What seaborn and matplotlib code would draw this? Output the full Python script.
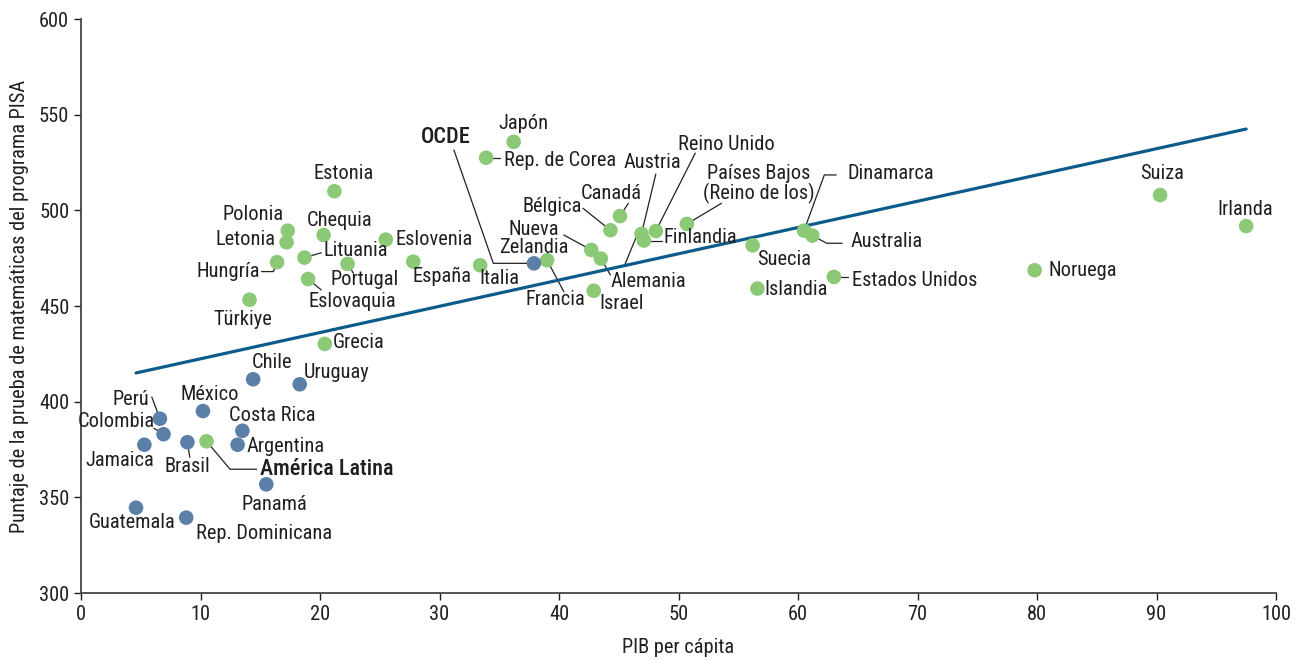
import numpy as np
import pandas as pd
import matplotlib.pyplot as plt
import seaborn as sns
from matplotlib import font_manager

# datos (PIB per cápita en miles, puntaje PISA matemáticas)
paises = [
    "Japón", "Rep. de Corea", "Estonia", "Suiza", "Canadá", "Países Bajos\n(Reino de los)",
    "Irlanda", "Bélgica", "Dinamarca", "Reino Unido", "Polonia", "Austria", "Australia",
    "Chequia", "Eslovenia", "Finlandia", "Letonia", "Suecia", "Nueva\nZelandia", "Lituania",
    "Alemania", "Francia", "España", "Hungría", "Portugal", "Italia", "Noruega",
    "Estados Unidos", "Eslovaquia", "Islandia", "Israel", "Türkiye", "Grecia", "OCDE",
    "Chile", "Uruguay", "México", "Perú", "Costa Rica", "Colombia", "Brasil",
    "América Latina", "Argentina", "Jamaica", "Panamá", "Guatemala", "Rep. Dominicana",
]
pib = [
    36.2, 33.9, 21.2, 90.3, 45.1, 50.7,
    97.5, 44.3, 60.5, 48.1, 17.3, 46.9, 61.2,
    20.3, 25.5, 47.1, 17.2, 56.2, 42.7, 18.7,
    43.5, 39.0, 27.8, 16.4, 22.3, 33.4, 79.8,
    63.0, 19.0, 56.6, 42.9, 14.1, 20.4, 37.9,
    14.4, 18.3, 10.2, 6.6, 13.5, 6.9, 8.9,
    10.5, 13.1, 5.3, 15.5, 4.6, 8.8,
]
pisa = [
    535.8, 527.5, 510.0, 508.0, 497.0, 492.9,
    491.8, 489.6, 489.4, 489.2, 489.4, 487.7, 486.8,
    487.1, 484.7, 484.2, 483.3, 481.7, 479.3, 475.3,
    474.8, 473.9, 473.2, 472.9, 472.0, 471.3, 468.7,
    465.2, 464.1, 459.1, 458.0, 453.3, 430.2, 472.3,
    411.7, 409.1, 395.1, 391.1, 384.8, 383.0, 378.8,
    379.3, 377.5, 377.5, 356.8, 344.6, 339.4,
]
grupo = ["verde"] * 33 + ["azul"] * 8 + ["verde"] + ["azul"] * 5

# recta de tendencia
tendencia_x = [4.6, 97.5]
tendencia_y = [415.0, 542.5]

# posición de etiquetas (x, y, alineación)
etiquetas = {
    "Japón": (37.0, 545.2, "center"), "Rep. de Corea": (35.4, 525.8, "left"),
    "Estonia": (22.0, 519.0, "center"), "Suiza": (90.5, 519.0, "center"),
    "Canadá": (44.4, 508.6, "center"), "Países Bajos\n(Reino de los)": (56.7, 513.8, "center"),
    "Irlanda": (97.4, 500.6, "center"), "Bélgica": (39.45, 502.0, "center"),
    "Dinamarca": (64.15, 519.0, "left"), "Reino Unido": (54.0, 534.2, "center"),
    "Polonia": (14.4, 497.6, "center"), "Austria": (47.8, 525.0, "center"),
    "Australia": (64.4, 483.6, "left"), "Chequia": (21.6, 494.6, "center"),
    "Eslovenia": (26.3, 484.5, "left"), "Finlandia": (48.7, 486.0, "left"),
    "Letonia": (13.8, 484.5, "center"), "Suecia": (58.8, 474.1, "center"),
    "Nueva\nZelandia": (37.85, 485.4, "center"), "Lituania": (20.3, 479.0, "left"),
    "Alemania": (47.5, 462.7, "center"), "Francia": (39.7, 453.2, "center"),
    "España": (30.2, 465.4, "center"), "Hungría": (14.98, 468.0, "right"),
    "Portugal": (23.7, 463.6, "center"), "Italia": (35.0, 464.5, "center"),
    "Noruega": (81.0, 468.5, "left"), "Estados Unidos": (64.5, 463.3, "left"),
    "Eslovaquia": (22.7, 452.3, "center"), "Islandia": (57.15, 458.6, "left"),
    "Israel": (45.25, 451.1, "center"), "Türkiye": (13.5, 442.7, "center"),
    "Grecia": (21.1, 430.8, "left"), "OCDE": (30.5, 538.5, "center"),
    "Chile": (15.96, 420.4, "center"), "Uruguay": (21.4, 415.4, "center"),
    "México": (10.8, 403.5, "center"), "Perú": (4.18, 401.3, "center"),
    "Costa Rica": (16.0, 392.9, "center"), "Colombia": (2.99, 389.5, "center"),
    "Brasil": (8.9, 365.9, "center"), "América Latina": (20.6, 365.0, "center"),
    "Argentina": (17.15, 376.8, "center"), "Jamaica": (3.2, 369.2, "center"),
    "Panamá": (16.2, 346.5, "center"), "Guatemala": (4.24, 336.8, "center"),
    "Rep. Dominicana": (15.3, 331.2, "center"),
}

# líneas guía: puntos después del marcador
guias = {
    "Rep. de Corea": [(35.1, 527.5)], "Canadá": [(45.8, 503.7)],
    "Países Bajos\n(Reino de los)": [(53.6, 503.7)], "Bélgica": [(42.0, 501.1)],
    "Dinamarca": [(62.2, 518.5), (63.2, 518.5)], "Reino Unido": [(51.4, 529.9)],
    "Austria": [(48.1, 519.0)], "Australia": [(62.4, 482.8), (63.7, 482.8)],
    "Finlandia": [(48.6, 484.2)], "Nueva\nZelandia": [(40.4, 487.1)],
    "Lituania": [(20.1, 477.8)], "Alemania": [(44.3, 466.2)],
    "Francia": [(40.4, 457.5)], "Hungría": [(16.1, 468.0), (15.1, 468.0)],
    "Portugal": [(22.8, 467.1)], "Estados Unidos": [(64.2, 465.2)],
    "Eslovaquia": [(20.1, 458.4)], "Israel": [(43.2, 455.0)],
    "OCDE": [(34.5, 472.3), (31.2, 531.6)], "Perú": [(5.92, 402.4)],
    "Colombia": [(6.1, 386.1)], "Brasil": [(9.1, 370.9)],
    "América Latina": [(12.47, 364.7), (14.7, 364.7)],
}
linea_extra = [(45.5, 471.5), (46.5, 486.7)]

df = pd.DataFrame({"pais": paises, "pib": pib, "pisa": pisa, "grupo": grupo})

sns.set_style("ticks")
instaladas = {f.name for f in font_manager.fontManager.ttflist}
candidatas = ["Roboto Condensed", "Barlow Semi Condensed", "Archivo Narrow", "Asap Condensed"]
fuente = next((c for c in candidatas if c in instaladas), "DejaVu Sans")
plt.rcParams["font.family"] = [fuente, "DejaVu Sans"]

TAM = 14.7

fig = plt.figure(figsize=(13.01, 6.6), dpi=100)
ax = fig.add_axes([0.0623, 0.1015, 0.9185, 0.8697])

sns.lineplot(x=tendencia_x, y=tendencia_y, color="#0d5b8a", linewidth=2.3, ax=ax, zorder=2)

for _, fila in df.iterrows():
    if fila["pais"] in guias:
        pts = [(fila["pib"], fila["pisa"])] + guias[fila["pais"]]
        ax.plot([p[0] for p in pts], [p[1] for p in pts], color="#222222", lw=0.9, zorder=1)
ax.plot([p[0] for p in linea_extra], [p[1] for p in linea_extra], color="#222222", lw=0.9, zorder=1)

sns.scatterplot(data=df, x="pib", y="pisa", hue="grupo",
                palette={"verde": "#8cc976", "azul": "#5b7fa6"},
                s=110, linewidth=0, legend=False, ax=ax, zorder=3)

for _, fila in df.iterrows():
    tx, ty, ha = etiquetas[fila["pais"]]
    negrita = fila["pais"] in ("OCDE", "América Latina")
    ax.text(tx, ty, fila["pais"], ha=ha, va="center", ma="center",
            fontsize=16 if negrita else TAM, color="#1f1f1f",
            fontweight="medium" if negrita else "normal", linespacing=0.95, zorder=4)

ax.set_xlim(0, 100)
ax.set_ylim(300, 600)
ax.set_xticks(range(0, 101, 10))
ax.set_yticks(range(300, 601, 50))
ax.set_xlabel("PIB per cápita", fontsize=TAM, color="#1f1f1f", labelpad=10)
ax.set_ylabel("Puntaje de la prueba de matemáticas del programa PISA", fontsize=TAM,
              color="#1f1f1f", labelpad=7)
ax.tick_params(axis="both", labelsize=TAM, colors="#1f1f1f", length=5, width=1, direction="out")
sns.despine(ax=ax)
for lado in ("left", "bottom"):
    ax.spines[lado].set_color("#444444")
    ax.spines[lado].set_linewidth(1.3)

fig.savefig("out.png", dpi=100)
